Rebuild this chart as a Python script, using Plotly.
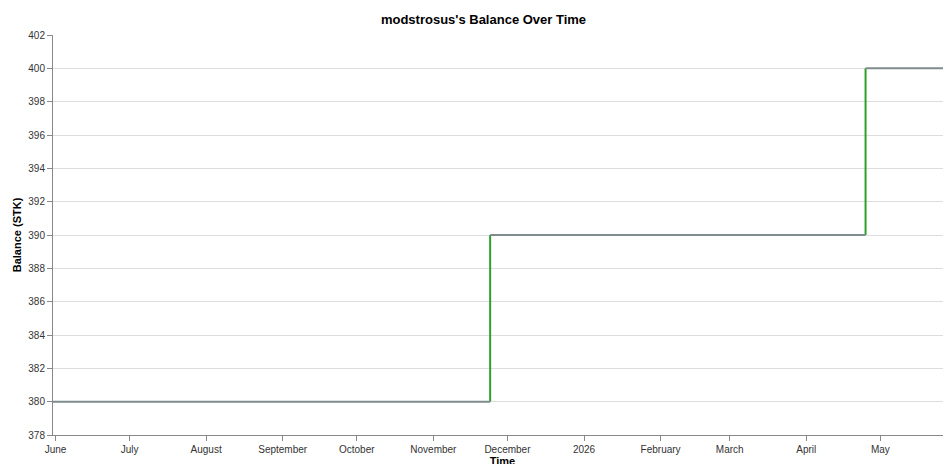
import plotly.graph_objects as go

# balance history (step changes)
dates = ["2025-05-31", "2025-11-24", "2026-04-25", "2026-05-30"]
balances = [380, 390, 400, 400]

tick_dates = ["2025-06-01", "2025-07-01", "2025-08-01", "2025-09-01", "2025-10-01",
              "2025-11-01", "2025-12-01", "2026-01-01", "2026-02-01", "2026-03-01",
              "2026-04-01", "2026-05-01"]
tick_labels = ["June", "July", "August", "September", "October", "November",
               "December", "2026", "February", "March", "April", "May"]

fig = go.Figure()

# vertical jumps in green
for i in range(len(dates) - 1):
    if balances[i + 1] != balances[i]:
        fig.add_trace(go.Scatter(x=[dates[i + 1], dates[i + 1]], y=[balances[i], balances[i + 1]],
                                 mode="lines", line=dict(color="#2ca02c", width=2),
                                 showlegend=False, hoverinfo="skip"))

# flat segments in gray
for i in range(len(dates) - 1):
    fig.add_trace(go.Scatter(x=[dates[i], dates[i + 1]], y=[balances[i], balances[i]],
                             mode="lines", line=dict(color="#7f8c8d", width=2),
                             showlegend=False))

fig.update_layout(
    width=951, height=464,
    margin=dict(l=45, r=7, t=27, b=37),
    plot_bgcolor="white", paper_bgcolor="white",
    font=dict(family="Liberation Sans, Arial, sans-serif", size=10, color="#333"),
    title=dict(text="<b>modstrosus's Balance Over Time</b>", x=0.5, xanchor="center",
               y=0.976, yanchor="middle", font=dict(size=13, color="#000")),
)
fig.update_xaxes(
    range=[dates[0], dates[-1]], tickvals=tick_dates, ticktext=tick_labels,
    showgrid=False, showline=True, linecolor="#888", ticks="outside", tickcolor="#888",
    ticklen=5, tickangle=0, automargin=False,
    title=dict(text="<b>Time</b>", font=dict(size=11, color="#000"), standoff=2),
)
fig.update_yaxes(
    range=[378, 402], dtick=2, showgrid=True, gridcolor="#ddd", zeroline=False,
    showline=True, linecolor="#888", ticks="outside", tickcolor="#888", ticklen=5,
    automargin=False,
    title=dict(text="<b>Balance (STK)</b>", font=dict(size=11, color="#000"), standoff=4),
)

fig.write_html("out.html")
